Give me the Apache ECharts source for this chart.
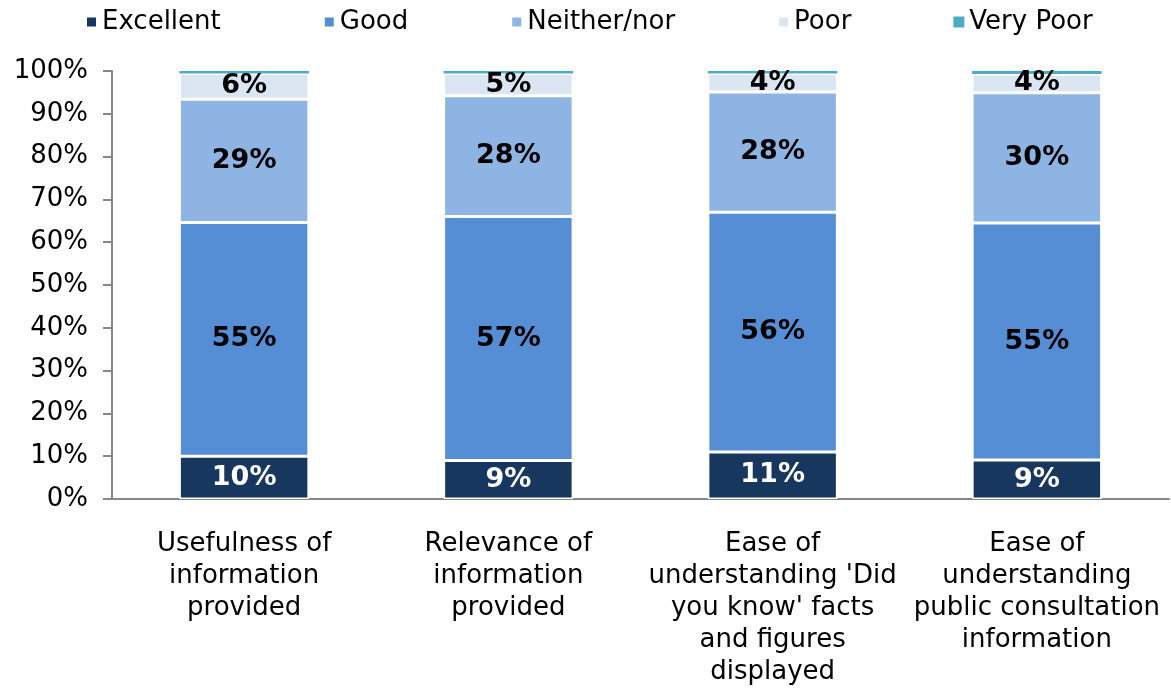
<!DOCTYPE html>
<html>
<head>
<meta charset="utf-8">
<script src="https://cdn.jsdelivr.net/npm/echarts@6/dist/echarts.min.js"></script>
<style>
  html, body { margin: 0; padding: 0; background: #fff; }
  #main { width: 1171px; height: 689px; }
</style>
</head>
<body>
<div id="main"></div>
<script>
// categories
var categories = [
  'Usefulness of\ninformation\nprovided',
  'Relevance of\ninformation\nprovided',
  "Ease of\nunderstanding 'Did\nyou know' facts\nand figures\ndisplayed",
  'Ease of\nunderstanding\npublic consultation\ninformation'
]

// values (%)
var excellent = [10.0, 9.0, 11.0, 9.1]
var good      = [54.6, 57.0, 56.0, 55.4]
var neither   = [28.8, 28.2, 28.1, 30.4]
var poor      = [6.0, 5.2, 4.3, 4.4]
var veryPoor  = [0.6, 0.6, 0.6, 0.7]

var yTicks = ['0%', '10%', '20%', '30%', '40%', '50%', '60%', '70%', '80%', '90%', '100%']

var font = 'DejaVu Sans, Verdana, sans-serif'

function seg(name, data, color, labelColor) {
  return {
    name: name,
    type: 'bar',
    stack: 'all',
    barWidth: '49%',
    data: data,
    itemStyle: { color: color, borderColor: '#fff', borderWidth: 1.5 },
    label: {
      show: labelColor != null,
      position: 'inside',
      color: labelColor,
      fontFamily: font,
      fontWeight: 'bold',
      fontSize: 27,
      formatter: function (p) { return Math.round(p.value) + '%' }
    }
  }
}

var chart = echarts.init(document.getElementById('main'))

chart.setOption({
  animation: false,
  backgroundColor: '#fff',
  legend: {
    top: 4,
    left: 80,
    itemWidth: 11,
    itemHeight: 11,
    itemGap: 102,
    icon: 'rect',
    textStyle: { fontFamily: font, fontSize: 26, color: '#000' }
  },
  grid: { left: 112, right: 2, top: 71, bottom: 190, containLabel: false },
  xAxis: {
    type: 'category',
    data: categories,
    axisLine: { lineStyle: { color: '#868686', width: 2 } },
    axisTick: { length: 9, lineStyle: { color: '#868686', width: 2 } },
    axisLabel: {
      interval: 0,
      margin: 29,
      fontFamily: font,
      fontSize: 26,
      lineHeight: 32,
      color: '#000',
      align: 'center'
    }
  },
  yAxis: {
    type: 'value',
    min: 0,
    max: 100,
    interval: 10,
    splitLine: { show: false },
    axisLine: { show: true, lineStyle: { color: '#868686', width: 2 } },
    axisTick: { show: true, length: 9, lineStyle: { color: '#868686', width: 2 } },
    axisLabel: {
      margin: 24,
      fontFamily: font,
      fontSize: 26,
      color: '#000',
      formatter: function (v) { return yTicks[v / 10] }
    }
  },
  series: [
    seg('Excellent', excellent, '#17375E', '#fff'),
    seg('Good', good, '#558ED5', '#000'),
    seg('Neither/nor', neither, '#8EB4E3', '#000'),
    seg('Poor', poor, '#DCE6F2', '#000'),
    Object.assign(seg('Very Poor', veryPoor, '#4BACC6', null), {
      itemStyle: { color: '#4BACC6', borderWidth: 0 }
    })
  ]
})
</script>
</body>
</html>
